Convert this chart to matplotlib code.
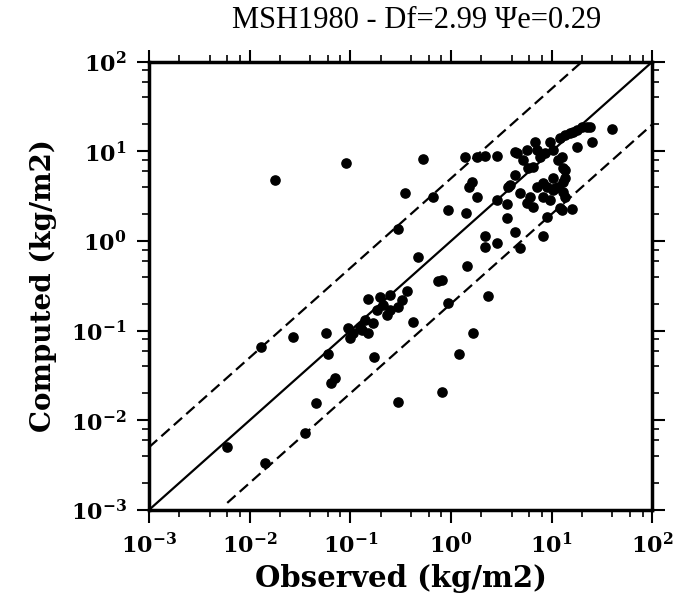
import numpy as np
import matplotlib
matplotlib.use("Agg")
import matplotlib.pyplot as plt
from matplotlib.ticker import LogLocator, FixedFormatter, NullFormatter

plt.rcParams['mathtext.fontset'] = 'dejavuserif'

title = "MSH1980 - Df=2.99 \u03a8e=0.29"

# observed / computed loads (kg/m2)
observed = [
    0.0179, 0.091, 0.53, 0.35, 0.30, 0.47, 0.67, 0.94, 1.42, 1.38,
    1.82, 2.19, 2.88, 4.35, 1.63, 1.52, 1.82, 1.45, 0.82, 0.75,
    0.37, 2.34, 0.94, 2.19, 2.19, 2.88, 4.35, 4.9, 8.3, 3.6,
    2.88, 3.6, 3.7, 4.35, 4.9, 5.7, 6.6, 6.1, 7.2, 8.3,
    8.3, 9.7, 10.4, 11.6, 13.0, 13.6, 12.2, 16.0, 9.0, 12.7,
    5.2, 5.7, 6.9, 7.2, 6.6, 9.7, 10.4, 12.2, 12.7, 13.0,
    15.3, 18.0, 20.0, 24.0, 18.0, 25.0, 40.0, 13.6, 22.6, 16.4,
    13.6, 8.6, 11.6, 13.6, 10.4, 10.9, 13.0, 7.7, 5.8, 4.5,
    9.0, 3.9,
    0.150, 0.198, 0.249, 0.212, 0.249, 0.30, 0.33, 0.185, 0.232, 0.42,
    0.140, 0.169, 0.125, 0.095, 0.107, 0.100, 0.150, 0.131, 0.173, 0.071,
    0.064, 0.0457, 0.30, 0.027, 0.057, 0.060, 0.013, 0.0356, 0.0142, 0.006,
    1.66, 1.2, 0.82,
]
computed = [
    4.8, 7.5, 8.3, 3.45, 1.37, 0.67, 3.1, 2.2, 2.07, 8.7,
    8.7, 8.9, 8.9, 9.9, 4.6, 4.0, 3.1, 0.53, 0.37, 0.36,
    0.28, 0.245, 0.204, 1.14, 0.86, 0.95, 1.27, 0.84, 1.14, 1.8,
    2.9, 2.6, 4.0, 5.5, 3.45, 2.67, 2.4, 3.1, 4.0, 4.5,
    3.1, 2.9, 3.7, 4.0, 4.6, 3.1, 2.35, 2.29, 1.86, 2.23,
    8.1, 10.4, 12.8, 10.4, 6.7, 12.8, 10.4, 14.2, 8.7, 6.6,
    16.1, 17.4, 18.8, 18.8, 11.2, 12.8, 17.9, 5.1, 18.8, 16.6,
    15.3, 9.6, 8.1, 6.2, 5.1, 3.9, 3.5, 8.7, 6.6, 9.6,
    4.0, 4.2,
    0.226, 0.238, 0.251, 0.194, 0.171, 0.185, 0.221, 0.171, 0.150, 0.125,
    0.132, 0.122, 0.110, 0.107, 0.094, 0.083, 0.094, 0.102, 0.051, 0.0297,
    0.0261, 0.0156, 0.016, 0.085, 0.094, 0.055, 0.066, 0.0072, 0.00335, 0.0050,
    0.094, 0.055, 0.0207,
]

# 1:1 line and factor-5 envelope
one_to_one = [1e-3, 1e2]
upper_x = [1e-3, 20.0]
lower_x = [0.006, 1e2]
factor = 5.0

tick_vals = [1e-3, 1e-2, 1e-1, 1e0, 1e1, 1e2]
tick_labels = [r"$\mathbf{10^{-3}}$", r"$\mathbf{10^{-2}}$", r"$\mathbf{10^{-1}}$",
               r"$\mathbf{10^{0}}$", r"$\mathbf{10^{1}}$", r"$\mathbf{10^{2}}$"]

fig = plt.figure(figsize=(6.83, 6.0), dpi=100)
ax = fig.add_axes([0.218, 0.15, 0.737, 0.747])

ax.plot(one_to_one, one_to_one, color="black", lw=1.6)
ax.plot(upper_x, [v * factor for v in upper_x], color="black", lw=1.6,
        dashes=(5, 2.5))
ax.plot(lower_x, [v / factor for v in lower_x], color="black", lw=1.6,
        dashes=(5, 2.5))
ax.scatter(observed, computed, s=44, color="black", zorder=3)

ax.set_xscale("log")
ax.set_yscale("log")
ax.set_xlim(1e-3, 1e2)
ax.set_ylim(1e-3, 1e2)

for axis in (ax.xaxis, ax.yaxis):
    axis.set_major_locator(LogLocator(base=10, numticks=10))
    axis.set_minor_locator(LogLocator(base=10, subs=(2, 4, 6, 8), numticks=10))
    axis.set_minor_formatter(NullFormatter())
ax.set_xticks(tick_vals)
ax.set_xticklabels(tick_labels)
ax.set_yticks(tick_vals)
ax.set_yticklabels(tick_labels)

ax.tick_params(which="both", direction="out", top=True, right=True,
               labelsize=16, width=1.5)
ax.tick_params(which="major", length=9, pad=7)
ax.tick_params(which="minor", length=5, width=1.2)
for sp in ax.spines.values():
    sp.set_linewidth(2.5)

ax.set_xlabel("Observed (kg/m2)", fontsize=21, fontweight="bold",
              family="DejaVu Serif", labelpad=5)
ax.set_ylabel("Computed (kg/m2)", fontsize=20, fontweight="bold",
              family="DejaVu Serif", labelpad=10)

fig.text(0.61, 0.965, title, ha="center", va="center", fontsize=22,
         family="Liberation Serif")

fig.savefig("out.png", dpi=100)
